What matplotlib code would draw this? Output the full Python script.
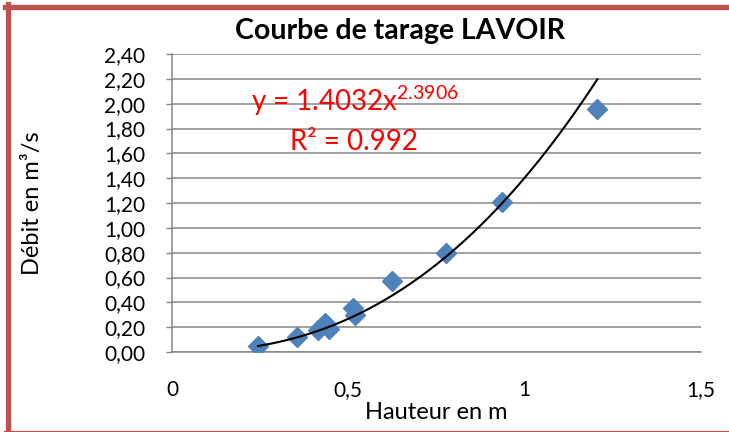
import numpy as np
import matplotlib.pyplot as plt
from matplotlib.lines import Line2D

# Mesures de hauteur (m) et débit (m3/s)
hauteur = [0.244, 0.354, 0.414, 0.434, 0.445, 0.513, 0.519, 0.624, 0.777, 0.935, 1.206]
debit = [0.05, 0.12, 0.177, 0.234, 0.185, 0.354, 0.298, 0.572, 0.797, 1.21, 1.956]

# Ajustement puissance y = a * x^b
coef_a = 1.4032
coef_b = 2.3906
r2 = 0.992

y_ticks = [0.0, 0.2, 0.4, 0.6, 0.8, 1.0, 1.2, 1.4, 1.6, 1.8, 2.0, 2.2, 2.4]
y_labels = ["0,00", "0,20", "0,40", "0,60", "0,80", "1,00", "1,20",
            "1,40", "1,60", "1,80", "2,00", "2,20", "2,40"]
x_ticks = [0, 0.5, 1, 1.5]
x_labels = ["0", "0,5", "1", "1,5"]

plt.rcParams['font.family'] = ['Lato', 'DejaVu Sans']

W, H = 729, 432
fig = plt.figure(figsize=(W / 100, H / 100), dpi=100)
ax = fig.add_axes([172 / W, 1 - 352 / H, (701 - 172) / W, (352 - 54) / H])

# points de mesure
ax.plot(hauteur, debit, linestyle='none', marker='D', markersize=10,
        color='#4F81BD', zorder=3)

# courbe de tendance
xs = np.linspace(min(hauteur), max(hauteur), 200)
ax.plot(xs, coef_a * xs ** coef_b, color='black', linewidth=1.5, zorder=4)

ax.set_xlim(0, 1.5)
ax.set_ylim(0, 2.4)
ax.set_yticks(y_ticks)
ax.set_yticklabels(y_labels)
ax.set_xticks(x_ticks)
ax.set_xticklabels(x_labels)
ax.tick_params(axis='y', length=4, color='#868686', width=1, pad=15, labelsize=15)
ax.tick_params(axis='x', length=0, pad=20, labelsize=15)
ax.grid(axis='y', color='#868686', linewidth=1.1)
ax.set_axisbelow(True)
for side in ['top', 'right']:
    ax.spines[side].set_visible(False)
for side in ['left', 'bottom']:
    ax.spines[side].set_color('#868686')
    ax.spines[side].set_linewidth(1.1)

fig.text(33 / W, 1 - 203 / H, "Débit en m³/s", rotation=90, fontsize=17,
         ha='center', va='center')
fig.text(436 / W, 1 - 419 / H, "Hauteur en m", fontsize=17,
         ha='center', va='baseline')
fig.text(400 / W, 1 - 31 / H, "Courbe de tarage LAVOIR", fontsize=20.5,
         fontweight='bold', ha='center', va='center')

fig.text(251 / W, 1 - 111 / H,
         "y = %.4fx$^{\\mathregular{%.4f}}$" % (coef_a, coef_b),
         color='#FF0000', fontsize=20, ha='left', va='baseline')
fig.text(290 / W, 1 - 150 / H, "R² = %.3f" % r2,
         color='#FF0000', fontsize=20, ha='left', va='baseline')

# cadre rouge
red = '#C0504D'
fig.add_artist(Line2D([7.5 / W, 7.5 / W], [0, 1 - 4 / H], color=red,
                      linewidth=3.8, transform=fig.transFigure))
fig.add_artist(Line2D([5 / W, 1.0], [1 - 6.5 / H, 1 - 6.5 / H], color=red,
                      linewidth=3.8, transform=fig.transFigure))
fig.add_artist(Line2D([5 / W, 1.0], [0.5 / H, 0.5 / H], color=red,
                      linewidth=1.5, transform=fig.transFigure))

fig.savefig('out.png', dpi=100)
